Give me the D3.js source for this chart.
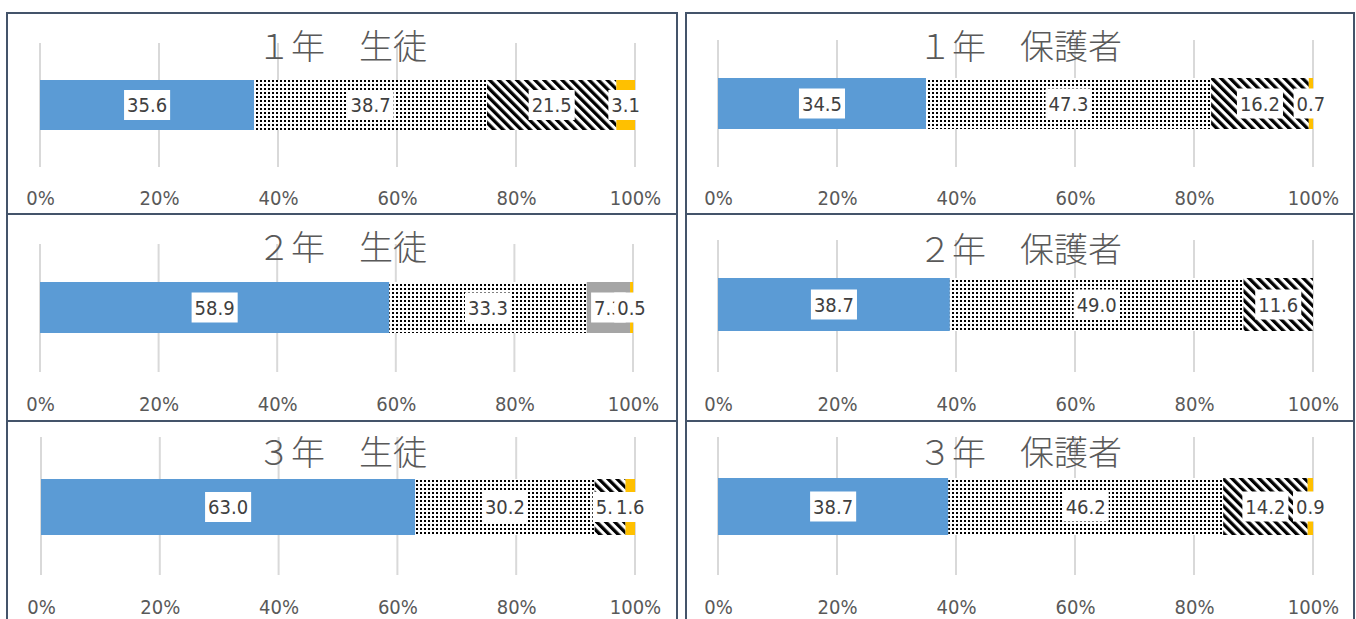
<!DOCTYPE html>
<html>
<head>
<meta charset="utf-8">
<script src="https://cdn.jsdelivr.net/npm/d3@7"></script>
<style>
  html, body { margin: 0; padding: 0; background: #fff; }
  svg { display: block; }
</style>
</head>
<body>
<svg id="chart"></svg>
<script>
// chart values
const categories = ["１年　生徒", "２年　生徒", "３年　生徒", "１年　保護者", "２年　保護者", "３年　保護者"];
const seriesNames = ["そう思う", "どちらかといえばそう思う", "どちらかといえばそう思わない", "そう思わない"];
const series1 = [35.6, 58.9, 63.0, 34.5, 38.7, 38.7];
const series2 = [38.7, 33.3, 30.2, 47.3, 49.0, 46.2];
const series3 = [21.5, 7.3, 5.2, 16.2, 11.6, 14.2];
const series4 = [3.1, 0.5, 1.6, 0.7, 0, 0.9];
const tickValues = [0, 0.2, 0.4, 0.6, 0.8, 1];

// panel layout (pixels)
const layout = [
  { px: 7,   py: 13,  pw: 670, ph: 201, x0: 40,  x1: 635,  gTop: 43,  gBot: 167, bTop: 80,  bBot: 130, titleY: 47,  tickY: 198 },
  { px: 7,   py: 214, pw: 670, ph: 207, x0: 40,  x1: 633,  gTop: 244, gBot: 372, bTop: 282, bBot: 333, titleY: 248, tickY: 404 },
  { px: 7,   py: 421, pw: 670, ph: 220, x0: 41,  x1: 635,  gTop: 437, gBot: 575, bTop: 479, bBot: 535, titleY: 453, tickY: 607 },
  { px: 686, py: 13,  pw: 668, ph: 201, x0: 718, x1: 1313, gTop: 40,  gBot: 167, bTop: 78,  bBot: 129, titleY: 47,  tickY: 198 },
  { px: 686, py: 214, pw: 668, ph: 207, x0: 718, x1: 1313, gTop: 240, gBot: 372, bTop: 278, bBot: 331, titleY: 250, tickY: 404 },
  { px: 686, py: 421, pw: 668, ph: 220, x0: 718, x1: 1313, gTop: 437, gBot: 575, bTop: 478, bBot: 535, titleY: 453, tickY: 607 }
];

const width = 1356, height = 619;
const fills = ["#5B9BD5", "url(#dots)", "url(#stripes)", "#FFC000"];
// the 2年 生徒 chart uses a plain grey for its third series
const fillOverride = { "２年　生徒": { 2: "#A5A5A5" } };
const numFont = "'Liberation Sans Narrow', 'DejaVu Sans Condensed', 'Noto Sans', sans-serif";

const svg = d3.select("#chart")
  .attr("width", width)
  .attr("height", height)
  .attr("viewBox", `0 0 ${width} ${height}`);

// patterns
const defs = svg.append("defs");
const dots = defs.append("pattern")
  .attr("id", "dots")
  .attr("patternUnits", "userSpaceOnUse")
  .attr("width", 4).attr("height", 4);
dots.append("rect").attr("width", 4).attr("height", 4).attr("fill", "#fff");
dots.append("rect").attr("width", 2).attr("height", 2).attr("fill", "#000");

const stripes = defs.append("pattern")
  .attr("id", "stripes")
  .attr("patternUnits", "userSpaceOnUse")
  .attr("width", 6.4).attr("height", 6.4)
  .attr("patternTransform", "rotate(-45)");
stripes.append("rect").attr("width", 6.4).attr("height", 6.4).attr("fill", "#fff");
stripes.append("rect").attr("width", 3.3).attr("height", 6.4).attr("fill", "#000");

const rows = categories.map((c, i) => ({
  category: c,
  [seriesNames[0]]: series1[i],
  [seriesNames[1]]: series2[i],
  [seriesNames[2]]: series3[i],
  [seriesNames[3]]: series4[i]
}));

const stacked = d3.stack()
  .keys(seriesNames)
  .offset(d3.stackOffsetExpand)(rows);

svg.append("rect").attr("width", width).attr("height", height).attr("fill", "#fff");

categories.forEach((cat, i) => {
  const L = layout[i];
  const g = svg.append("g");

  const x = d3.scaleLinear().domain([0, 1]).range([L.x0, L.x1]);
  const y = d3.scaleBand().domain([cat]).range([L.bTop, L.bBot]).padding(0);

  // gridlines
  g.selectAll(".grid")
    .data(tickValues)
    .enter().append("line")
    .attr("x1", d => x(d)).attr("x2", d => x(d))
    .attr("y1", L.gTop).attr("y2", L.gBot)
    .attr("stroke", "#D9D9D9")
    .attr("stroke-width", 2);

  // title
  g.append("text")
    .attr("x", L.px + L.pw / 2)
    .attr("y", L.titleY)
    .attr("dy", "0.36em")
    .attr("text-anchor", "middle")
    .attr("fill", "#595959")
    .style("font-family", "'Noto Sans CJK JP', sans-serif")
    .style("font-weight", 300)
    .style("font-size", "34px")
    .text(cat);

  // bars
  stacked.forEach((s, k) => {
    const d = s[i];
    const fill = (fillOverride[cat] && fillOverride[cat][k]) || fills[k];
    g.append("rect")
      .attr("x", x(d[0]))
      .attr("y", y(cat))
      .attr("width", Math.max(0, x(d[1]) - x(d[0])))
      .attr("height", y.bandwidth())
      .attr("fill", fill);
  });

  // data labels with white boxes
  stacked.forEach((s, k) => {
    const d = s[i];
    const v = d.data[s.key];
    if (!v) return;
    const cx = (x(d[0]) + x(d[1])) / 2;
    const cy = y(cat) + y.bandwidth() / 2;
    const lg = g.append("g");
    const box = lg.append("rect").attr("fill", "#fff");
    const t = lg.append("text")
      .attr("x", cx)
      .attr("y", cy)
      .attr("dy", "0.36em")
      .attr("text-anchor", "middle")
      .attr("fill", "#404040")
      .style("font-family", numFont)
      .style("font-size", "20px")
      .text(d3.format(".1f")(v));
    const tw = t.node().getComputedTextLength();
    box.attr("x", cx - tw / 2 - 3)
      .attr("y", cy - 15)
      .attr("width", tw + 6)
      .attr("height", 30);
  });

  // axis
  const axis = g.append("g")
    .attr("transform", `translate(0,${L.tickY})`)
    .call(d3.axisBottom(x).tickValues(tickValues).tickFormat(d3.format(".0%")).tickSize(0));
  axis.select(".domain").remove();
  axis.selectAll("text")
    .attr("y", 0)
    .attr("dy", "0.36em")
    .attr("fill", "#595959")
    .style("font-family", numFont)
    .style("font-size", "20px");

  // panel border
  svg.append("rect")
    .attr("x", L.px).attr("y", L.py)
    .attr("width", L.pw).attr("height", L.ph)
    .attr("fill", "none")
    .attr("stroke", "#44546A")
    .attr("stroke-width", 2);
});
</script>
</body>
</html>
